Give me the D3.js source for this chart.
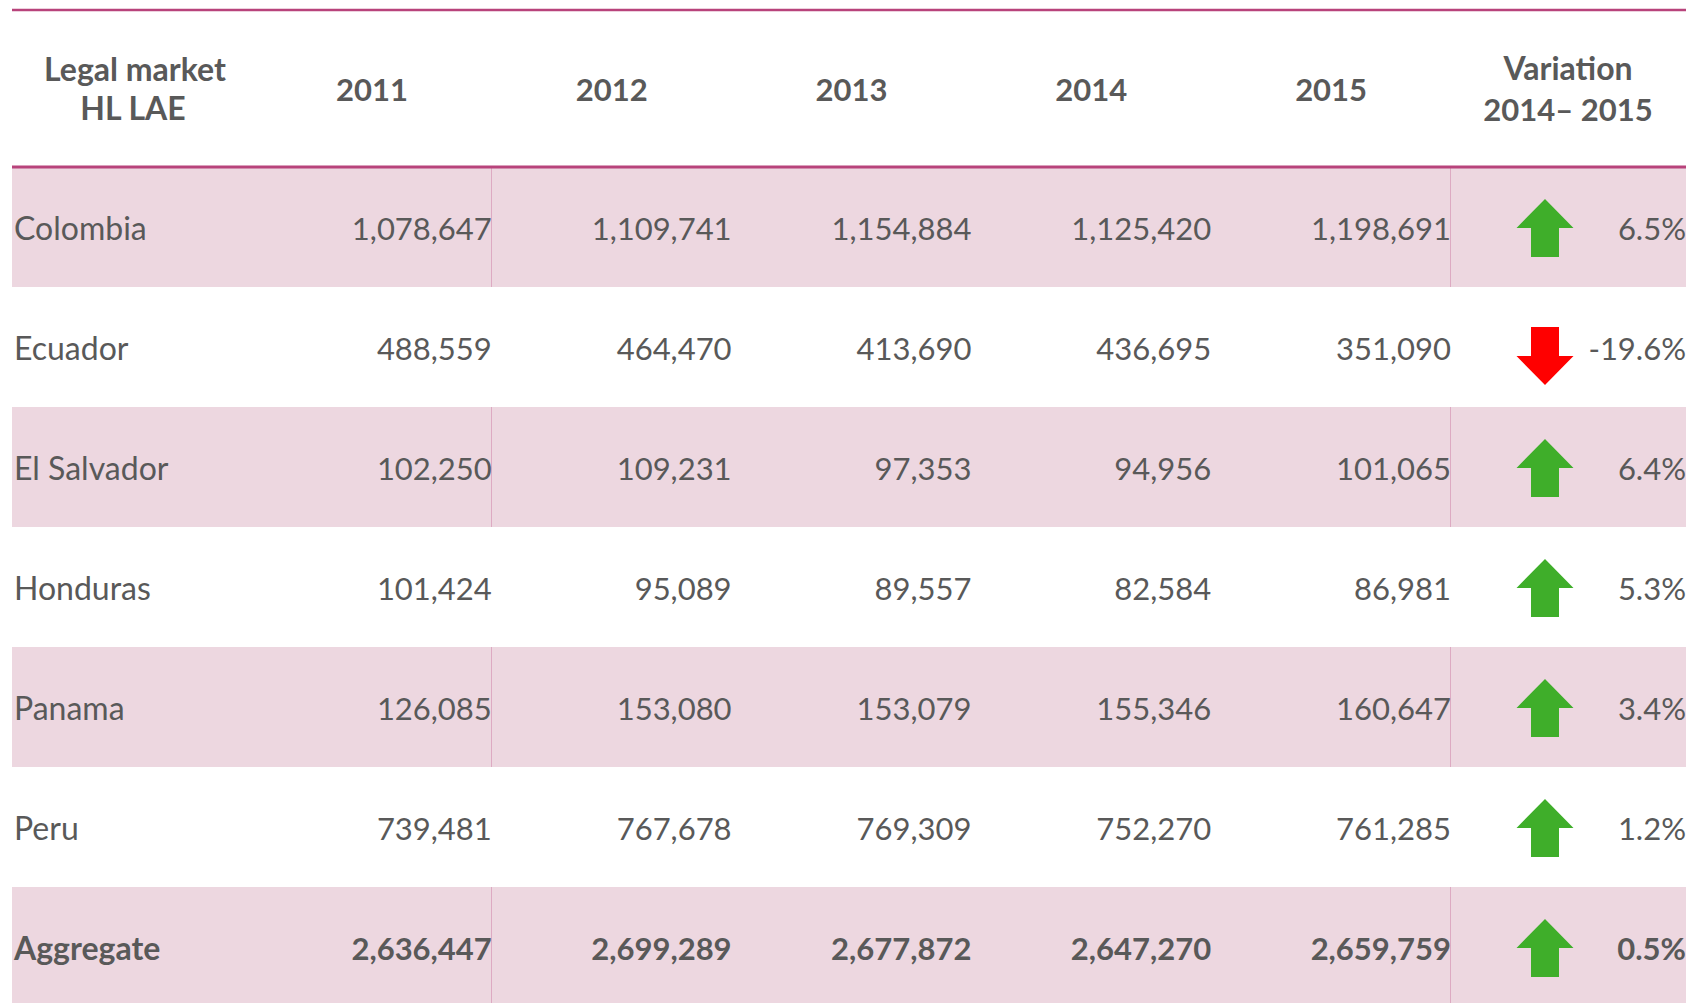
<!DOCTYPE html>
<html>
<head>
<meta charset="utf-8">
<script src="https://cdn.jsdelivr.net/npm/d3@7"></script>
<style>
  body { margin: 0; background: #fff; }
  text { font-family: Lato, "Open Sans", sans-serif; fill: #595959; }
</style>
</head>
<body>
<script>
var svgWidth = 1692;
var svgHeight = 1003;

var countries = ["Colombia", "Ecuador", "El Salvador", "Honduras", "Panama", "Peru", "Aggregate"];
var years = ["2011", "2012", "2013", "2014", "2015"];
var v2011 = [1078647, 488559, 102250, 101424, 126085, 739481, 2636447];
var v2012 = [1109741, 464470, 109231, 95089, 153080, 767678, 2699289];
var v2013 = [1154884, 413690, 97353, 89557, 153079, 769309, 2677872];
var v2014 = [1125420, 436695, 94956, 82584, 155346, 752270, 2647270];
var v2015 = [1198691, 351090, 101065, 86981, 160647, 761285, 2659759];
var variation = [6.5, -19.6, 6.4, 5.3, 3.4, 1.2, 0.5];

var series = [v2011, v2012, v2013, v2014, v2015];

var left = 12, right = 1686;
var headerTop = 10, headerBottom = 167;
var rowH = 120;

var svg = d3.select("body")
    .append("svg")
    .attr("width", svgWidth)
    .attr("height", svgHeight);

var yScale = d3.scaleBand()
    .domain(countries)
    .range([headerBottom, headerBottom + rowH * countries.length]);

var xScale = d3.scaleBand()
    .domain(years)
    .range([252, 1451]);

var fmt = d3.format(",");

// row bands
var rows = svg.selectAll("g.row")
    .data(countries)
    .enter()
    .append("g")
    .attr("class", "row");

rows.filter((d, i) => i % 2 === 0)
    .append("rect")
    .attr("x", left)
    .attr("y", d => yScale(d))
    .attr("width", right - left)
    .attr("height", yScale.bandwidth())
    .attr("fill", "#EDD7E0");

// vertical separators (only show on shaded rows)
rows.filter((d, i) => i % 2 === 0)
    .selectAll("line")
    .data(d => [[d, 491], [d, 1450]])
    .enter()
    .append("line")
    .attr("x1", d => d[1] + 0.5)
    .attr("x2", d => d[1] + 0.5)
    .attr("y1", d => yScale(d[0]))
    .attr("y2", d => yScale(d[0]) + yScale.bandwidth())
    .attr("stroke", "#DDAAC2")
    .attr("stroke-width", 1);

// header lines
svg.append("line")
    .attr("x1", left).attr("x2", right)
    .attr("y1", headerTop).attr("y2", headerTop)
    .attr("stroke", "#B8437B").attr("stroke-width", 2.5);

svg.append("line")
    .attr("x1", left).attr("x2", right)
    .attr("y1", headerBottom).attr("y2", headerBottom)
    .attr("stroke", "#B8437B").attr("stroke-width", 3);

// header text
var head = svg.append("g")
    .attr("font-weight", "bold")
    .attr("font-size", 31)
    .attr("text-anchor", "middle");

head.append("text").attr("x", 135).attr("y", 81).attr("font-size", 32).text("Legal market");
head.append("text").attr("x", 133).attr("y", 120).attr("font-size", 32).text("HL LAE");

head.selectAll("text.year")
    .data(years)
    .enter()
    .append("text")
    .attr("class", "year")
    .attr("x", d => xScale(d) + xScale.bandwidth() / 2)
    .attr("y", 101)
    .text(d => d);

head.append("text").attr("x", 1568).attr("y", 80).attr("font-size", 32).text("Variation");
head.append("text").attr("x", 1568).attr("y", 121).text("2014\u2013 2015");

// body text
rows.each(function(c, i) {
    var g = d3.select(this);
    var cy = yScale(c) + yScale.bandwidth() / 2;
    var bold = c === "Aggregate" ? "bold" : "normal";
    var base = cy + 13;

    g.append("text")
        .attr("x", 14)
        .attr("y", base)
        .attr("font-size", 32)
        .attr("font-weight", bold)
        .text(c);

    g.selectAll("text.num")
        .data(years)
        .enter()
        .append("text")
        .attr("class", "num")
        .attr("x", (d) => xScale(d) + xScale.bandwidth())
        .attr("y", base)
        .attr("font-size", 31)
        .attr("font-weight", bold)
        .attr("text-anchor", "end")
        .text((d, j) => fmt(series[j][i]));

    g.append("text")
        .attr("x", 1686)
        .attr("y", base)
        .attr("font-size", 31)
        .attr("font-weight", bold)
        .attr("text-anchor", "end")
        .text(variation[i].toFixed(1) + "%");

    // arrow
    var up = variation[i] >= 0;
    var ax = 1545;
    var top = cy - 29, mid = cy, bot = cy + 29;
    var pts = up
        ? [[ax, top], [ax + 28.5, mid], [ax + 14, mid], [ax + 14, bot], [ax - 14, bot], [ax - 14, mid], [ax - 28.5, mid]]
        : [[ax, bot], [ax + 28.5, mid], [ax + 14, mid], [ax + 14, top], [ax - 14, top], [ax - 14, mid], [ax - 28.5, mid]];
    var ay = up ? 1 : 9;
    g.append("polygon")
        .attr("points", pts.map(p => [p[0], p[1] + ay].join(",")).join(" "))
        .attr("fill", up ? "#3FAE2A" : "#FF0000");
});
</script>
</body>
</html>
